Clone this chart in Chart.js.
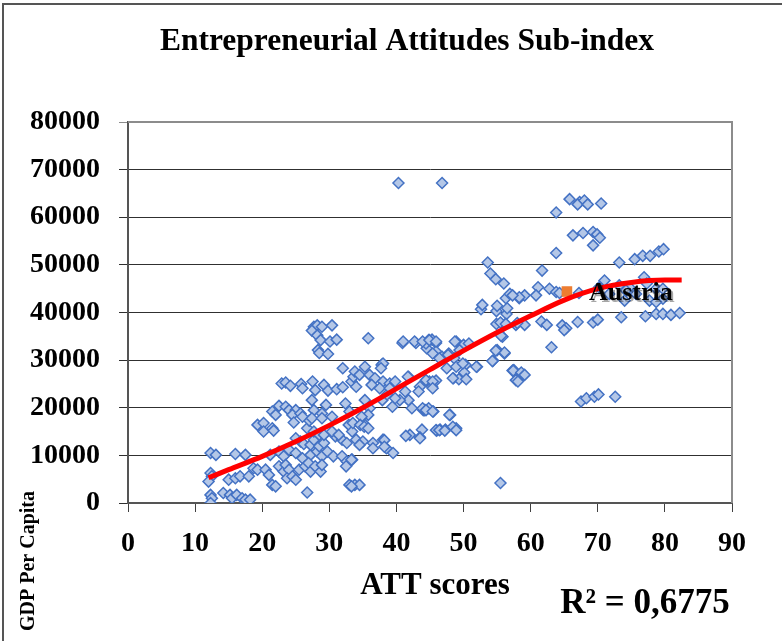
<!DOCTYPE html>
<html>
<head>
<meta charset="utf-8">
<script src="https://cdn.jsdelivr.net/npm/chart.js@4/dist/chart.umd.min.js"></script>
<style>
	html, body { margin: 0; padding: 0; background: #fff; }
	#wrap { width: 782px; height: 641px; }
</style>
</head>
<body>
<div id="wrap"><canvas id="attChart" width="782" height="641"></canvas></div>
<script>
/* -------------------------------------------------------------
 * DATA
 * ------------------------------------------------------------- */
const attScores = [
	12.3, 13.1, 16.0, 17.5, 12.3, 12.5, 12.0, 15.0, 16.0, 16.7, 18.0, 18.7, 19.3, 20.5, 21.0, 21.5, 22.0,
	12.3, 12.5, 12.3, 14.2, 15.2, 15.5, 16.2, 17.0, 17.5, 18.2,
	19.3, 20.2, 20.2, 21.5, 21.7,
	21.2, 22.5, 23.2, 24.0, 25.0, 26.0, 27.2, 28.2, 28.9, 29.7, 30.6, 31.9, 32.6, 33.4,
	22.5, 23.2, 23.5, 24.0, 23.7, 24.5, 25.0, 25.5, 26.4, 26.9, 27.2, 27.9, 28.7, 28.9, 26.7, 32.5, 33.0,
	25.0, 25.7, 26.2, 27.2, 27.7, 28.5, 29.2, 30.9, 31.9, 32.6,
	26.7, 27.0, 27.7, 28.5, 29.2, 30.4, 31.4, 32.9, 33.4,
	22.5, 23.5, 21.5, 22.0, 24.0, 25.0, 24.5, 25.7, 26.0, 24.7, 27.4, 27.7, 28.9, 29.5, 27.4, 28.9, 30.4, 32.4, 33.0,
	22.9, 23.5, 24.2, 25.8, 26.0, 27.5, 27.9, 29.2, 29.8, 31.1, 32.0, 33.3, 33.6,
	27.7, 28.2, 28.9, 30.4, 27.4, 28.2, 28.7, 30.1, 31.1, 28.3, 28.5, 29.8, 32.0,
	35.8, 40.9, 42.9, 44.8, 45.3, 45.9, 44.5, 45.9, 46.8, 47.8, 48.9, 50.0, 50.8, 48.6, 55.0, 56.1, 55.8, 54.4, 57.5, 58.0,
	47.5, 50.3, 50.1, 52.0, 48.5, 49.3, 50.4, 45.9, 44.9, 45.3, 43.5, 43.3, 41.8, 41.3, 41.8, 40.5, 39.4, 42.3, 44.0, 44.8, 45.5, 48.0,
	46.5, 47.3, 46.0, 48.9, 43.8, 42.0, 43.5, 41.4, 55.5,
	37.8, 35.3, 33.8, 34.5, 36.0, 36.8, 34.0, 36.3, 38.0, 39.0, 39.8, 37.5, 35.3, 36.0, 35.8, 34.8, 33.5, 35.3,
	34.0, 35.0, 34.5, 36.5, 36.5, 38.0, 38.5, 39.5, 33.3, 33.8, 34.5, 33.3,
	38.0, 37.7, 41.0, 42.7, 44.4, 41.7, 44.2, 38.2, 38.2, 37.9, 38.6, 39.8, 39.0, 34.6, 35.2, 35.8,
	45.4, 46.4, 43.9, 44.9, 45.9, 48.7, 47.7, 49.4, 48.9, 49.9, 51.9, 48.4, 44.4, 45.4, 45.4, 43.9, 44.4, 45.4, 47.9,
	45.9, 46.4, 47.2, 48.4, 48.9, 43.5,
	54.9, 55.6, 56.1, 54.8, 54.3, 56.1, 57.8, 59.1, 52.6, 54.9, 56.4, 57.3, 58.1, 58.8,
	40.3, 46.8, 53.6, 54.0, 54.8, 56.0, 52.8, 55.0, 56.5, 56.3, 56.9, 58.3, 55.5, 56.3, 58.0,
	65.8, 67.3, 67.0, 68.0, 68.5, 70.5, 63.8, 66.3, 67.8, 69.3, 69.9, 70.3, 69.3, 63.8,
	73.2, 75.5, 76.7, 77.8, 79.1, 79.8, 61.7, 61.1, 62.8, 59.1, 58.3, 60.8, 57.3, 63.8, 64.3, 67.2,
	71.0, 70.2, 73.2, 74.7, 71.7, 74.0, 76.9, 77.3, 78.7, 79.7, 74.2, 75.7, 77.7, 79.7, 78.7,
	73.5, 77.1, 78.7, 79.7, 80.9, 82.2, 61.6, 62.4, 64.7, 65.3, 67.0, 69.3, 70.0,
	63.1, 65.0, 57.4, 58.6, 59.1, 57.8, 58.1, 67.5, 68.3, 69.5, 70.1, 72.6
];
const gdpPerCapita = [
	10500, 10100, 10300, 10100, 6300, 5600, 4500, 4900, 5200, 5600, 5600, 7300, 7000, 7000, 5900, 3800, 3500,
	1700, 1000, 0, 2100, 1700, 1000, 1700, 1000, 700, 700,
	16400, 16800, 15000, 15700, 15200,
	10100, 10800, 9800, 11200, 10500, 9400, 10100, 10800, 9800, 10800, 9800, 9800, 8700, 9100,
	7700, 6600, 8000, 7000, 5200, 5600, 4900, 7000, 7700, 8400, 6600, 7700, 6600, 8000, 2200, 7700, 3800,
	13600, 12900, 12400, 12200, 13300, 11900, 12600, 14000, 13300, 12600,
	15700, 17300, 15000, 14300, 14300, 15000, 14300, 16400, 15000,
	20400, 20200, 19200, 18500, 19500, 19500, 18500, 18800, 18100, 16900, 21600, 19500, 18800, 20600, 17800, 17800, 18100, 20900, 19200,
	25100, 25300, 24600, 25000, 24100, 25500, 23700, 24800, 23600, 23900, 24300, 25500, 26500,
	37000, 37300, 37000, 37300, 36200, 35200, 34200, 33900, 34300, 32100, 31500, 31300, 28300,
	34600, 33600, 33600, 34200, 34300, 33600, 32500, 31800, 30700, 31400, 33900, 33200, 33500, 30400, 32100, 31400, 34900, 29900, 27900, 25800,
	28300, 29000, 27400, 28600, 26200, 26000, 26000, 25700, 25500, 24400, 24400, 23400, 26500, 23400, 21600, 21600, 20200, 19900, 19500, 19900, 19200, 18500,
	15400, 15400, 15200, 15700, 15400, 14300, 13800, 14100, 4200,
	29000, 28600, 27600, 26900, 26900, 26200, 24400, 24800, 25500, 25100, 25500, 24100, 21600, 19900, 18500, 18100, 16800, 16400,
	13300, 12900, 12200, 12600, 11500, 13300, 11500, 10500, 9100, 3800, 3800, 3500,
	29300, 28300, 33900, 33900, 33500, 26500, 19500, 13200, 11800, 21600, 22800, 22000, 24100, 16400, 16000, 15700,
	31400, 30400, 33900, 34200, 33900, 33900, 31100, 32100, 28600, 29300, 28600, 26200, 25800, 25500, 24100, 19900, 19500, 19200, 18500,
	15300, 15300, 15200, 16000, 15300, 13600,
	37600, 35100, 31600, 32000, 29800, 37400, 37400, 37400, 40700, 40300, 39700, 27800, 25800, 26900,
	67200, 67200, 50500, 48200, 47000, 46100, 41600, 41400, 40900, 43000, 43900, 43000, 37900, 37600, 37800,
	63800, 63200, 62700, 63500, 62700, 62900, 61000, 56200, 56700, 56900, 56400, 55700, 54100, 52500,
	50500, 51200, 51900, 51900, 52800, 53300, 48800, 45300, 45000, 43600, 43200, 43600, 43600, 44300, 44100, 44100,
	46700, 45300, 45700, 45300, 43900, 42500, 47400, 46100, 45000, 45000, 44600, 43900, 42500, 42900, 42200,
	39000, 39200, 39700, 39700, 39500, 39900, 38100, 37400, 37300, 36700, 38000, 37900, 38500,
	32700, 36300, 27800, 27400, 26900, 25800, 25500, 21300, 22000, 22300, 22800, 22300
];

// Highlighted country
const austriaScore = 65.4;
const austriaGdp = 44400;

// Red trend curve
const trendScores = [ 12, 15, 20, 25, 30, 35, 40, 45, 50, 55, 60, 65, 70, 75, 80, 82.5 ];
const trendGdp = [ 5300, 7000, 9800, 12900, 16300, 20000, 24000, 28000, 32000, 35800, 39300, 42600, 45000, 46300, 46800, 46800 ];

const xTicks = [ 0, 10, 20, 30, 40, 50, 60, 70, 80, 90 ];
const yTicks = [ 0, 10000, 20000, 30000, 40000, 50000, 60000, 70000, 80000 ];

const chartTitle = 'Entrepreneurial Attitudes Sub-index';
const xTitle = 'ATT scores';
const yTitle = 'GDP Per Capita';
const rSquared = 'R² = 0,6775';

/* -------------------------------------------------------------
 * CHART
 * ------------------------------------------------------------- */
const SERIF = "'Liberation Serif', 'Times New Roman', serif";

const countryPoints = attScores.map( ( v, i ) => ( { x: v, y: gdpPerCapita[ i ] } ) );
const trendPoints = trendScores.map( ( v, i ) => ( { x: v, y: trendGdp[ i ] } ) );

// Extra texts and frame lines
const extras = {
	id: 'extras',
	afterDatasetsDraw( chart ) {
		const { ctx, chartArea: a, scales } = chart;
		ctx.save();

		// grey top / right edge of plot
		ctx.strokeStyle = '#8c8c8c';
		ctx.lineWidth = 2;
		ctx.beginPath();
		ctx.moveTo( a.left, a.top );
		ctx.lineTo( a.right, a.top );
		ctx.lineTo( a.right, a.bottom );
		ctx.stroke();

		// Austria label
		ctx.font = 'bold 26px ' + SERIF;
		ctx.textBaseline = 'middle';
		ctx.textAlign = 'left';
		ctx.shadowColor = 'rgba(0,0,0,0.35)';
		ctx.shadowOffsetX = 2;
		ctx.shadowOffsetY = 2;
		ctx.fillStyle = '#000';
		ctx.fillText(
			'Austria',
			scales.x.getPixelForValue( austriaScore ) + 22,
			scales.y.getPixelForValue( austriaGdp ) + 2
		);
		ctx.restore();
	},
	afterDraw( chart ) {
		const { ctx } = chart;
		ctx.save();
		// outer frame
		ctx.strokeStyle = '#555';
		ctx.lineWidth = 2;
		ctx.beginPath();
		ctx.moveTo( 3, 641 );
		ctx.lineTo( 3, 4 );
		ctx.lineTo( 782, 4 );
		ctx.stroke();

		ctx.fillStyle = '#000';
		ctx.textAlign = 'center';
		ctx.textBaseline = 'middle';

		ctx.font = 'bold 31.5px ' + SERIF;
		ctx.fillText( chartTitle, 407, 42 );

		ctx.font = 'bold 31px ' + SERIF;
		ctx.fillText( xTitle, 435, 586 );

		ctx.font = 'bold 35px ' + SERIF;
		ctx.fillText( rSquared, 645, 604 );

		ctx.translate( 29, 561 );
		ctx.rotate( -Math.PI / 2 );
		ctx.font = 'bold 20px ' + SERIF;
		ctx.fillText( yTitle, 0, 0 );
		ctx.restore();
	}
};

new Chart( document.getElementById( 'attChart' ), {
	type: 'scatter',
	data: {
		datasets: [
			{
				label: 'Trend',
				type: 'line',
				data: trendPoints,
				borderColor: '#ff0000',
				borderWidth: 5,
				pointRadius: 0,
				fill: false,
				cubicInterpolationMode: 'monotone',
				order: 0
			},
			{
				label: 'Austria',
				data: [ { x: austriaScore, y: austriaGdp } ],
				pointStyle: 'rect',
				pointRadius: 7.5,
				backgroundColor: '#ed7d31',
				borderColor: '#ed7d31',
				borderWidth: 0,
				order: 1
			},
			{
				label: 'Countries',
				data: countryPoints,
				pointStyle: 'rectRot',
				pointRadius: 5.5,
				backgroundColor: '#b4c7e7',
				borderColor: '#4472c4',
				borderWidth: 1.5,
				order: 2
			}
		]
	},
	options: {
		responsive: false,
		animation: false,
		layout: { padding: { top: 122, right: 50, left: 0, bottom: 0 } },
		plugins: {
			legend: { display: false },
			tooltip: { enabled: false },
			title: { display: false }
		},
		scales: {
			x: {
				type: 'linear',
				min: 0,
				max: 90,
				afterBuildTicks: ( s ) => { s.ticks = xTicks.map( ( v ) => ( { value: v } ) ); },
				afterFit: ( s ) => { s.height = 138; },
				ticks: {
					color: '#000',
					padding: 15,
					font: { family: SERIF, size: 28, weight: 'bold' },
					callback: ( v ) => String( v )
				},
				grid: {
					drawOnChartArea: false,
					tickLength: 9,
					color: '#404040',
					lineWidth: 1
				},
				border: { color: '#555', width: 2 }
			},
			y: {
				type: 'linear',
				min: 0,
				max: 80000,
				afterBuildTicks: ( s ) => { s.ticks = yTicks.map( ( v ) => ( { value: v } ) ); },
				afterFit: ( s ) => { s.width = 128; },
				ticks: {
					color: '#000',
					padding: 19,
					font: { family: SERIF, size: 28, weight: 'bold' },
					callback: ( v ) => String( v )
				},
				grid: {
					tickLength: 9,
					color: ( c ) => ( c.tick && c.tick.value === 80000 ? '#8c8c8c' : '#303030' ),
					lineWidth: 1
				},
				border: { color: '#555', width: 2 }
			}
		}
	},
	plugins: [ extras ]
} );
</script>
</body>
</html>
